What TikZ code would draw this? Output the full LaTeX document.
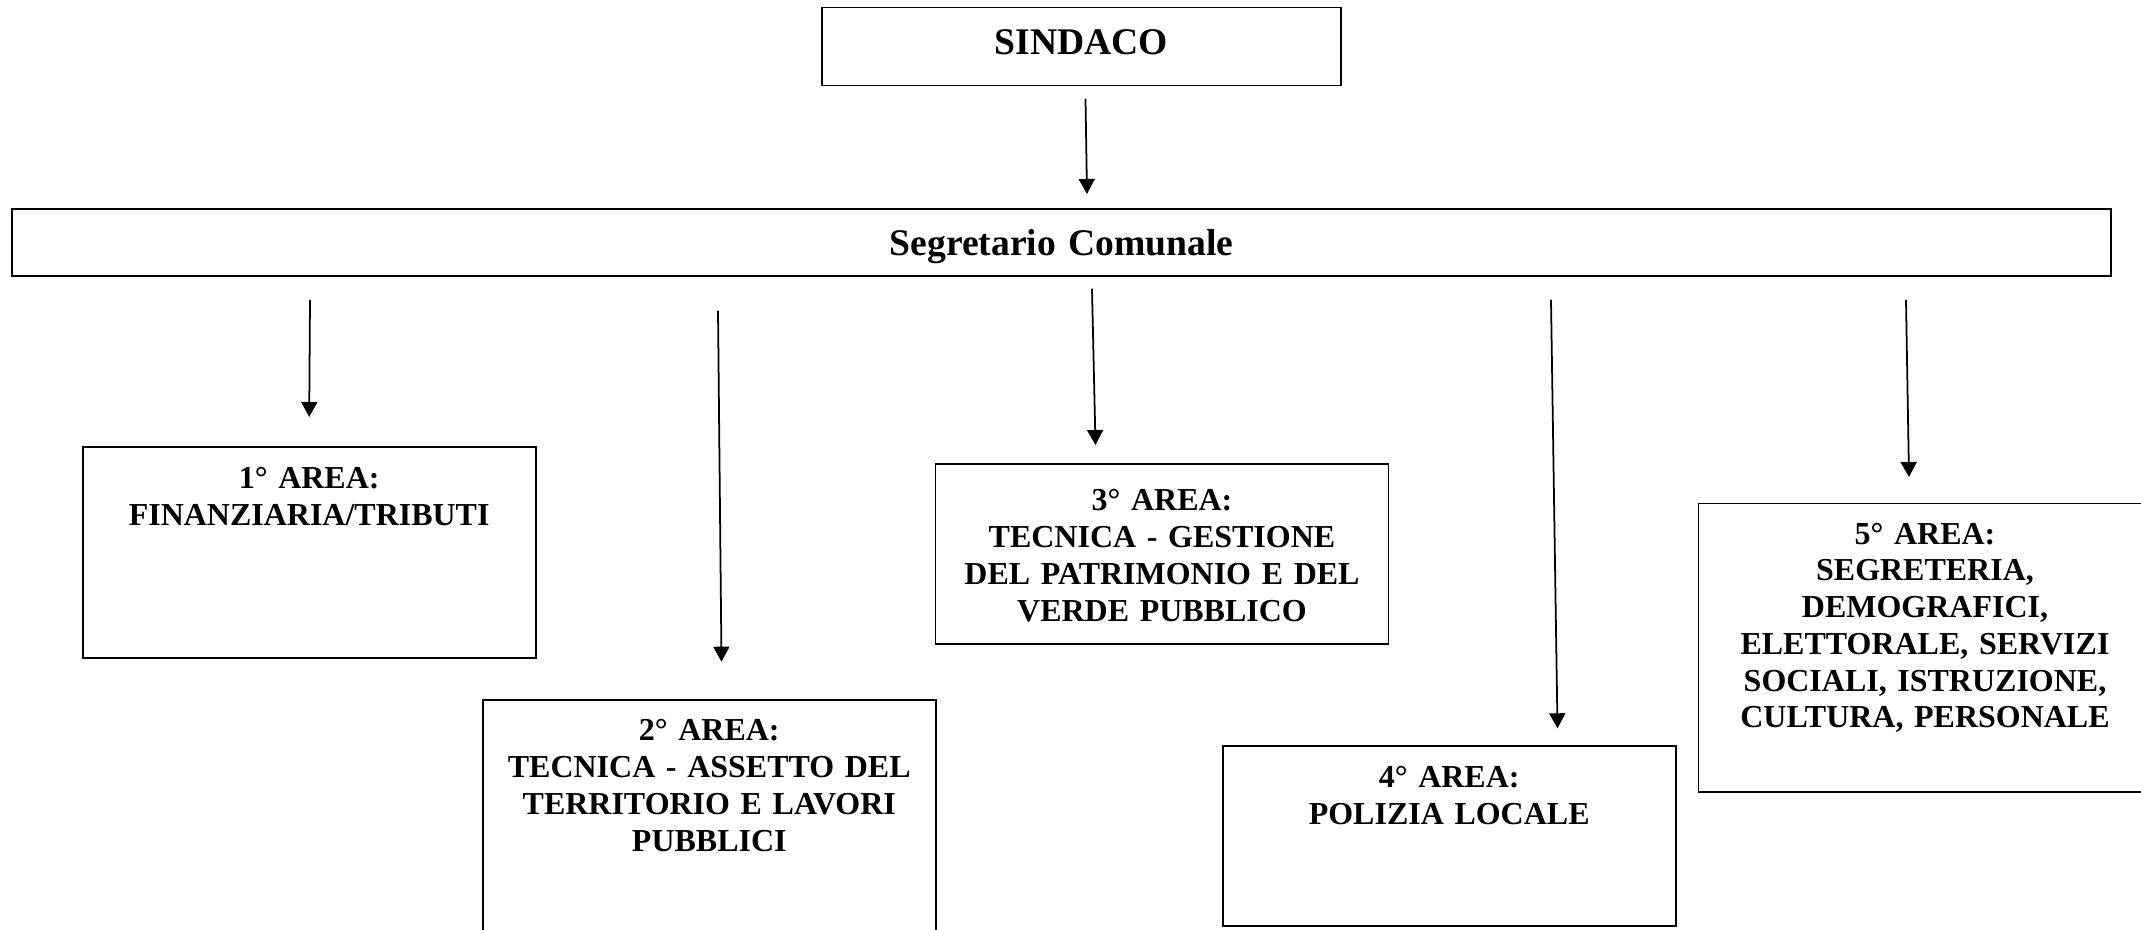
\documentclass[tikz,border=0pt]{standalone}
\usepackage{fontspec}
\setmainfont{Liberation Serif}
\usetikzlibrary{arrows.meta,calc}
\tikzset{box/.style={draw,line width=0.5pt,inner sep=0pt,align=center,anchor=north,font=\bfseries},head/.style={box,font=\bfseries\fontsize{10.7}{12.3}\selectfont},area/.style={box,text width=4.53cm,font=\bfseries\fontsize{9.1}{10.45}\selectfont},edge/.style={-{Triangle[length=1.5mm,width=1.6mm]},line width=0.5pt}}

\begin{document}
\begin{tikzpicture}
\clip (0,0) rectangle (21.41,-9.30);
\node[head,text width=5.19cm,text height=0.466cm,text depth=0.314cm] (sindaco) at (10.815,-0.067) {SINDACO};
\node[head,text width=20.99cm,text height=0.47cm,text depth=0.20cm] (segretario) at (10.617,-2.08) {Segretario Comunale};
\node[area,text height=0.418cm,text depth=1.693cm] (area1) at (3.092,-4.46)
{1° AREA:\\FINANZIARIA/TRIBUTI};
\node[area,text height=0.407cm,text depth=2.5cm] (area2) at (7.093,-6.993)
{2° AREA:\\TECNICA - ASSETTO DEL\\TERRITORIO E LAVORI\\PUBBLICI};
\node[area,text height=0.467cm,text depth=1.333cm] (area3) at (11.62,-4.633)
{3° AREA:\\TECNICA - GESTIONE\\DEL PATRIMONIO E DEL\\VERDE PUBBLICO};
\node[area,text height=0.417cm,text depth=1.383cm] (area4) at (14.492,-7.45)
{4° AREA:\\POLIZIA LOCALE};
\node[area,text height=0.406cm,text depth=2.477cm] (area5) at (19.25,-5.027)
{5° AREA:\\SEGRETERIA,\\DEMOGRAFICI,\\ELETTORALE, SERVIZI\\SOCIALI, ISTRUZIONE,\\CULTURA, PERSONALE};
\draw[edge] ($(sindaco.south)+(0.04,-0.123)$)--($(sindaco.south |- segretario.north)+(0.055,0.14)$);
\draw[edge] ($(segretario.south -| area1.north)+(0.008,-0.23)$)--($(area1.north)+(0,0.29)$);
\draw[edge] ($(segretario.south -| area2.north)+(0.087,-0.34)$)--($(area2.north)+(0.122,0.376)$);
\draw[edge] ($(segretario.south -| area3.north)+(-0.70,-0.12)$)--($(area3.north)+(-0.665,0.183)$);
\draw[edge] ($(segretario.south -| area4.north)+(1.018,-0.23)$)--($(area4.north)+(1.083,0.167)$);
\draw[edge] ($(segretario.south -| area5.north)+(-0.19,-0.23)$)--($(area5.north)+(-0.16,0.257)$);
\end{tikzpicture}
\end{document}
